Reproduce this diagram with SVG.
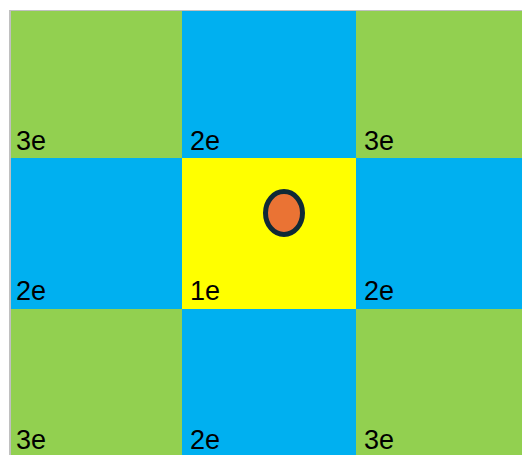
<svg xmlns="http://www.w3.org/2000/svg" width="522" height="455" viewBox="0 0 522 455">
<style>
.g{fill:#92d050}.b{fill:#00b0f0}.y{fill:#ffff00}
text{font-family:"Liberation Sans",Arial,sans-serif;font-size:27px;fill:#000}
</style>
<rect x="0" y="0" width="522" height="455" fill="#ffffff"/>
<rect x="9" y="10" width="513" height="445" fill="#c0c0c0"/>
<g id="cells">
<g id="c11"><rect class="g" x="11" y="11" width="171" height="147"/><text x="16" y="150">3e</text></g>
<g id="c12"><rect class="b" x="182" y="11" width="174" height="147"/><text x="190" y="150">2e</text></g>
<g id="c13"><rect class="g" x="356" y="11" width="166" height="147"/><text x="364" y="150">3e</text></g>
<g id="c21"><rect class="b" x="11" y="158" width="171" height="151"/><text x="16" y="300">2e</text></g>
<g id="c22"><rect class="y" x="182" y="158" width="174" height="151"/><text x="190" y="300">1e</text></g>
<g id="c23"><rect class="b" x="356" y="158" width="166" height="151"/><text x="364" y="300">2e</text></g>
<g id="c31"><rect class="g" x="11" y="309" width="171" height="146"/><text x="16" y="449">3e</text></g>
<g id="c32"><rect class="b" x="182" y="309" width="174" height="146"/><text x="190" y="449">2e</text></g>
<g id="c33"><rect class="g" x="356" y="309" width="166" height="146"/><text x="364" y="449">3e</text></g>
</g>
<g id="dot"><ellipse cx="284" cy="213" rx="18.5" ry="21.5" fill="#ea7334" stroke="#0f2a36" stroke-width="5"/></g>
<g id="connectors"/>
</svg>
